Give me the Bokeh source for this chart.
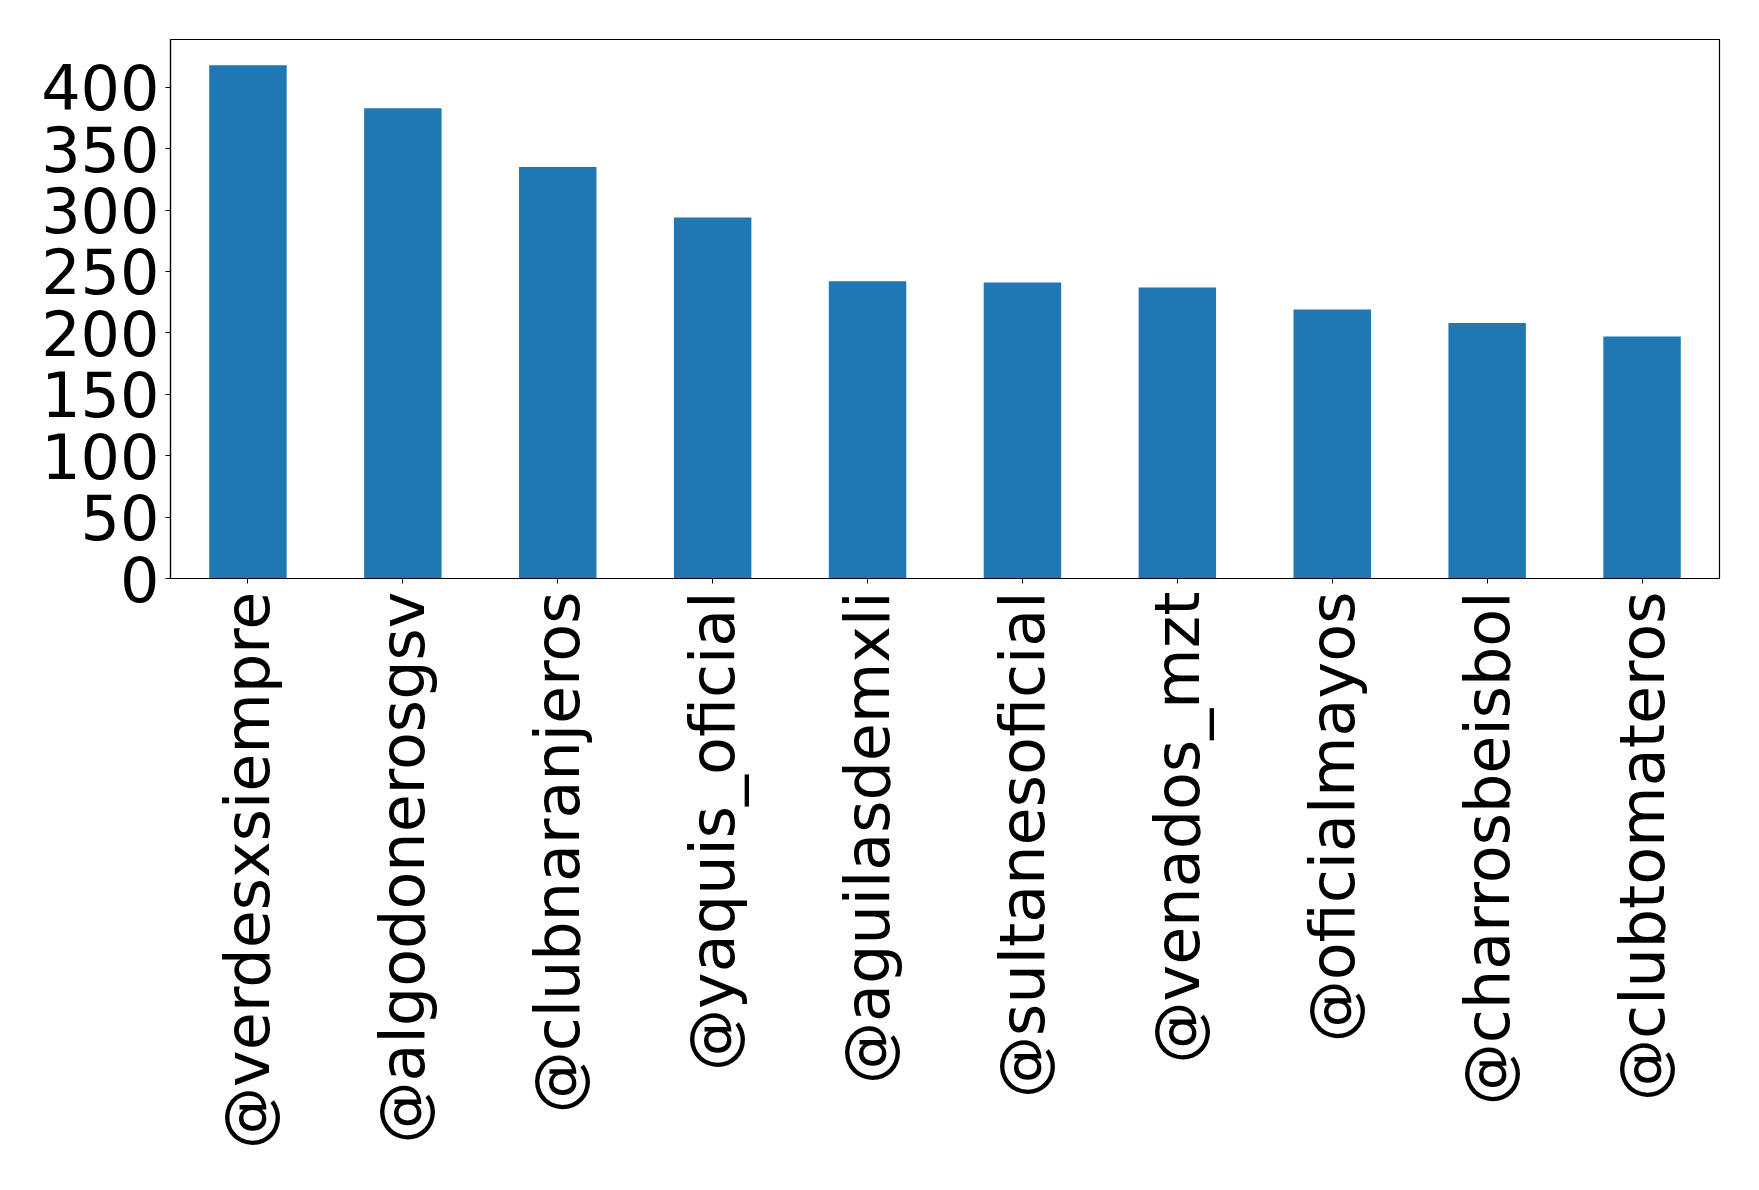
from bokeh.plotting import figure
from bokeh.models import ColumnDataSource, FactorRange, Range1d, FixedTicker
from bokeh.embed import file_html
from bokeh.resources import INLINE
import math

accounts = ["@verdesxsiempre", "@algodonerosgsv", "@clubnaranjeros", "@yaquis_oficial",
            "@aguilasdemxli", "@sultanesoficial", "@venados_mzt", "@oficialmayos",
            "@charrosbeisbol", "@clubtomateros"]
counts = [418, 383, 335, 294, 242, 241, 237, 219, 208, 197]
y_ticks = [0, 50, 100, 150, 200, 250, 300, 350, 400]

src = ColumnDataSource(dict(x=accounts, y=counts))

p = figure(x_range=FactorRange(*accounts), y_range=Range1d(0, max(counts) * 1.05),
           width=1743, height=1174, output_backend="svg", toolbar_location=None,
           min_border_left=170, min_border_right=24, min_border_top=39, min_border_bottom=596)
p.vbar(x="x", top="y", width=0.5, source=src, fill_color="#1f77b4", line_color=None)

p.xgrid.visible = False
p.ygrid.visible = False
p.outline_line_color = "black"
p.outline_line_width = 1.2
p.background_fill_color = "white"
p.border_fill_color = "white"

for ax in (p.xaxis[0], p.yaxis[0]):
    ax.major_label_text_font = "DejaVu Sans"
    ax.major_label_text_font_size = "62px"
    ax.major_label_text_color = "black"
    ax.axis_line_color = "black"
    ax.axis_line_width = 1.2
    ax.major_tick_line_color = "black"
    ax.major_tick_out = 5
    ax.major_tick_in = 0
    ax.minor_tick_line_color = None

p.yaxis[0].ticker = FixedTicker(ticks=y_ticks)
p.yaxis[0].major_label_standoff = 6
p.xaxis[0].major_label_orientation = math.pi / 2
p.xaxis[0].major_label_standoff = 8

open("out.html", "w").write(file_html(p, INLINE))
